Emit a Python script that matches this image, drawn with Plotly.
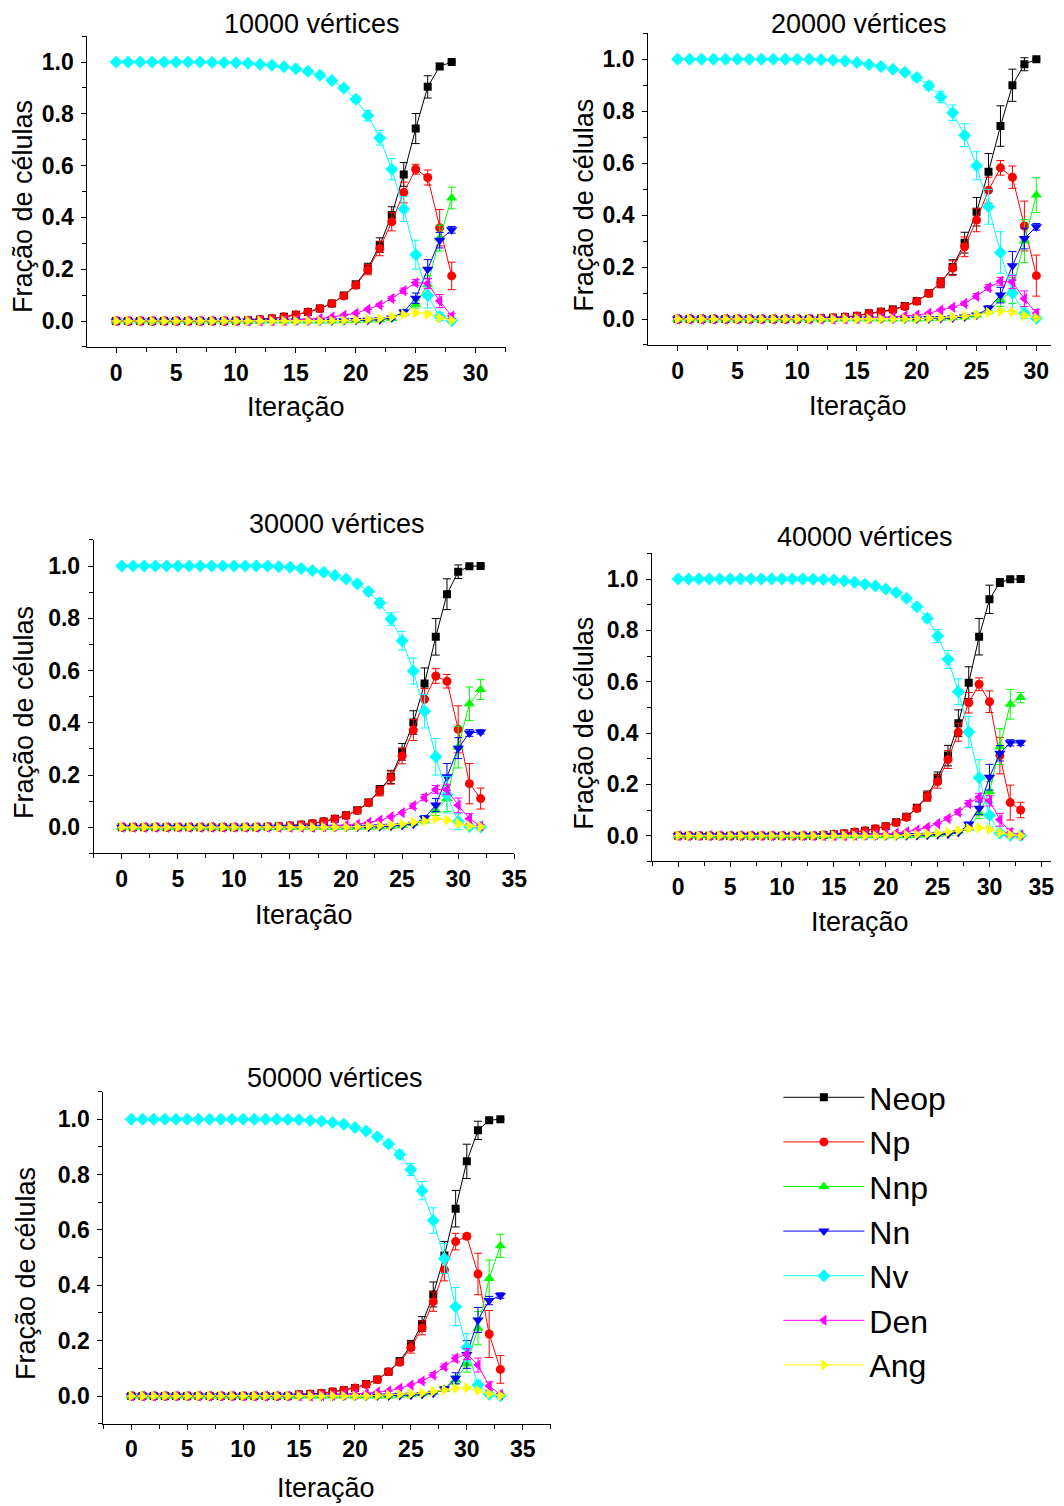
import plotly.graph_objects as go

# ---------------- data ----------------
SERIES = ["Neop", "Np", "Nnp", "Nn", "Nv", "Den", "Ang"]
TITLES = ["10000 vértices", "20000 vértices", "30000 vértices", "40000 vértices", "50000 vértices"]
X_TITLE = "Iteração"
Y_TITLE = "Fração de células"

# 10000 vertices (iterations 0..28)
it1 = list(range(29))
neop1 = [0]*10 + [0.001,0.003,0.006,0.010,0.016,0.024,0.035,0.048,0.068,0.098,0.141,0.203,0.293,0.409,0.566,0.743,0.904,0.983,1.0]
np1 = [0]*10 + [0.001,0.003,0.006,0.010,0.016,0.024,0.035,0.048,0.068,0.097,0.138,0.198,0.280,0.383,0.496,0.586,0.554,0.360,0.174]
nnp1 = [0]*19 + [0.001,0.002,0.003,0.005,0.010,0.030,0.065,0.140,0.320,0.475]
nn1 = [0]*19 + [0.001,0.002,0.003,0.005,0.012,0.035,0.088,0.200,0.312,0.352]
nv1 = [1,1,1,1,1,1,1,1,0.999,0.998,0.997,0.995,0.991,0.987,0.982,0.974,0.964,0.949,0.929,0.900,0.856,0.793,0.707,0.586,0.432,0.256,0.098,0.017,0.002]
den1 = [0]*14 + [0.002,0.004,0.006,0.010,0.015,0.022,0.030,0.045,0.062,0.087,0.117,0.148,0.145,0.077,0.019]
ang1 = [0]*18 + [0.001,0.002,0.004,0.006,0.010,0.016,0.025,0.032,0.027,0.012,0.003]
e_neop1 = [0]*19 + [0.010,0.013,0.020,0.028,0.032,0.046,0.058,0.043,0.012,0.003]
e_np1 = [0]*19 + [0.008,0.012,0.020,0.028,0.035,0.040,0.019,0.029,0.070,0.053]
e_nnp1 = [0]*23 + [0.004,0.010,0.015,0.035,0.050,0.042]
e_nn1 = [0]*23 + [0.004,0.008,0.020,0.037,0.030,0.013]
e_nv1 = [0]*18 + [0.005,0.008,0.012,0.020,0.028,0.041,0.048,0.056,0.048,0.015,0.003]
e_den1 = [0]*22 + [0.005,0.008,0.010,0.012,0.020,0.025,0.010]
e_ang1 = [0]*23 + [0.003,0.005,0.006,0.006,0.005,0.002]

# 20000 vertices (iterations 0..30)
it2 = list(range(31))
neop2 = [0]*11 + [0.001,0.003,0.005,0.008,0.012,0.022,0.028,0.037,0.050,0.069,0.099,0.140,0.200,0.294,0.413,0.567,0.743,0.900,0.981,1.0]
np2 = [0]*11 + [0.001,0.003,0.005,0.008,0.012,0.021,0.027,0.035,0.048,0.068,0.098,0.140,0.196,0.278,0.381,0.496,0.582,0.546,0.358,0.167]
nnp2 = [0]*21 + [0.002,0.003,0.005,0.008,0.015,0.030,0.073,0.110,0.300,0.477]
nn2 = [0]*21 + [0.001,0.002,0.004,0.008,0.015,0.041,0.092,0.205,0.310,0.355]
nv2 = [1]*12 + [0.998,0.996,0.993,0.988,0.980,0.972,0.962,0.950,0.930,0.898,0.855,0.794,0.708,0.590,0.432,0.256,0.100,0.022,0.003]
den2 = [0]*15 + [0.002,0.003,0.005,0.008,0.012,0.015,0.022,0.035,0.045,0.060,0.088,0.121,0.145,0.142,0.078,0.022]
ang2 = [0]*20 + [0.002,0.003,0.005,0.007,0.011,0.016,0.025,0.030,0.027,0.013,0.004]
e_neop2 = [0]*20 + [0.008,0.012,0.018,0.028,0.040,0.055,0.070,0.078,0.062,0.025,0.003]
e_np2 = [0]*21 + [0.010,0.020,0.028,0.038,0.045,0.050,0.028,0.043,0.096,0.079]
e_nnp2 = [0]*26 + [0.010,0.025,0.050,0.083,0.067]
e_nn2 = [0]*26 + [0.010,0.030,0.055,0.040,0.013]
e_nv2 = [0]*19 + [0.008,0.012,0.016,0.022,0.030,0.044,0.054,0.067,0.080,0.070,0.020,0.003]
e_den2 = [0]*24 + [0.008,0.010,0.012,0.015,0.025,0.030,0.015]
e_ang2 = [0]*25 + [0.003,0.005,0.006,0.006,0.005,0.002]

# 30000 vertices (iterations 0..32)
it3 = list(range(33))
neop3 = [0]*13 + [0.002,0.004,0.006,0.010,0.015,0.022,0.033,0.046,0.065,0.095,0.142,0.193,0.289,0.401,0.550,0.729,0.892,0.978,0.999,1.0]
np3 = [0]*13 + [0.002,0.004,0.006,0.010,0.015,0.022,0.032,0.045,0.064,0.094,0.138,0.190,0.273,0.372,0.490,0.579,0.559,0.375,0.167,0.110]
nnp3 = [0]*23 + [0.002,0.004,0.007,0.015,0.025,0.065,0.110,0.307,0.473,0.527]
nn3 = [0]*23 + [0.002,0.004,0.007,0.012,0.035,0.085,0.193,0.303,0.361,0.365]
nv3 = [1]*14 + [0.997,0.995,0.990,0.983,0.976,0.964,0.950,0.932,0.902,0.858,0.797,0.714,0.598,0.444,0.270,0.125,0.022,0.003,0.001]
den3 = [0]*18 + [0.003,0.005,0.008,0.012,0.018,0.027,0.040,0.056,0.082,0.114,0.145,0.145,0.084,0.033,0.005]
ang3 = [0]*21 + [0.002,0.004,0.006,0.009,0.013,0.018,0.024,0.033,0.027,0.015,0.005,0.002]
e_neop3 = [0]*21 + [0.010,0.012,0.018,0.025,0.032,0.045,0.060,0.070,0.059,0.026,0.003,0.002]
e_np3 = [0]*23 + [0.018,0.025,0.030,0.040,0.041,0.028,0.026,0.090,0.077,0.040]
e_nnp3 = [0]*27 + [0.008,0.020,0.050,0.080,0.064,0.038]
e_nn3 = [0]*27 + [0.010,0.025,0.051,0.040,0.013,0.008]
e_nv3 = [0]*21 + [0.010,0.013,0.018,0.024,0.036,0.050,0.064,0.070,0.070,0.030,0.005,0.002]
e_den3 = [0]*26 + [0.010,0.012,0.015,0.020,0.028,0.020,0.006]
e_ang3 = [0]*27 + [0.004,0.005,0.005,0.005,0.003,0.001]

# 40000 vertices (iterations 0..33)
it4 = list(range(34))
neop4 = [0]*14 + [0.003,0.006,0.009,0.014,0.019,0.027,0.037,0.052,0.074,0.109,0.156,0.226,0.312,0.438,0.596,0.775,0.921,0.986,0.999,1.0]
np4 = [0]*14 + [0.003,0.006,0.009,0.014,0.019,0.027,0.036,0.051,0.072,0.106,0.152,0.210,0.297,0.403,0.518,0.590,0.522,0.312,0.129,0.100]
nnp4 = [0]*23 + [0.002,0.004,0.006,0.010,0.018,0.030,0.087,0.171,0.347,0.512,0.538]
nn4 = [0]*23 + [0.001,0.002,0.004,0.006,0.012,0.045,0.107,0.228,0.321,0.362,0.362]
nv4 = [1]*13 + [0.999,0.998,0.996,0.993,0.987,0.980,0.973,0.961,0.947,0.925,0.892,0.847,0.778,0.687,0.561,0.404,0.226,0.080,0.011,0.002,0.001]
den4 = [0]*17 + [0.002,0.004,0.005,0.007,0.010,0.015,0.022,0.033,0.047,0.067,0.092,0.125,0.150,0.136,0.062,0.012,0.003]
ang4 = [0]*22 + [0.003,0.005,0.007,0.010,0.014,0.020,0.028,0.031,0.025,0.012,0.004,0.001]
e_neop4 = [0]*22 + [0.008,0.012,0.018,0.022,0.040,0.052,0.062,0.071,0.055,0.015,0.003,0.002]
e_np4 = [0]*24 + [0.018,0.025,0.035,0.035,0.040,0.025,0.042,0.071,0.068,0.030]
e_nnp4 = [0]*28 + [0.008,0.020,0.040,0.070,0.058,0.020]
e_nn4 = [0]*28 + [0.008,0.025,0.050,0.030,0.012,0.010]
e_nv4 = [0]*22 + [0.008,0.012,0.016,0.025,0.035,0.050,0.060,0.070,0.045,0.010,0.003,0.001]
e_den4 = [0]*26 + [0.006,0.010,0.012,0.015,0.020,0.025,0.015,0.005]
e_ang4 = [0]*27 + [0.003,0.004,0.005,0.005,0.004,0.002,0.001]

# 50000 vertices (iterations 0..33)
it5 = list(range(34))
neop5 = [0]*15 + [0.005,0.007,0.010,0.015,0.021,0.029,0.043,0.060,0.088,0.126,0.183,0.260,0.367,0.508,0.677,0.848,0.960,0.997,1.0]
np5 = [0]*15 + [0.005,0.007,0.010,0.015,0.021,0.029,0.042,0.059,0.088,0.122,0.175,0.246,0.341,0.456,0.558,0.577,0.441,0.224,0.096]
nnp5 = [0]*24 + [0.003,0.005,0.008,0.014,0.024,0.058,0.116,0.245,0.425,0.543]
nn5 = [0]*24 + [0.002,0.003,0.005,0.010,0.025,0.064,0.150,0.275,0.345,0.363]
nv5 = [1]*14 + [0.999,0.998,0.996,0.993,0.988,0.982,0.970,0.958,0.937,0.911,0.873,0.819,0.742,0.634,0.497,0.323,0.175,0.040,0.006,0.001]
den5 = [0]*17 + [0.002,0.003,0.005,0.007,0.010,0.014,0.018,0.028,0.040,0.054,0.076,0.106,0.136,0.152,0.112,0.036,0.005]
ang5 = [0]*22 + [0.002,0.004,0.006,0.008,0.011,0.016,0.022,0.028,0.030,0.020,0.008,0.002]
e_neop5 = [0]*23 + [0.008,0.012,0.018,0.027,0.045,0.050,0.066,0.062,0.033,0.004,0.002]
e_np5 = [0]*24 + [0.010,0.020,0.025,0.035,0.040,0.030,0.010,0.075,0.085,0.050]
e_nnp5 = [0]*28 + [0.008,0.015,0.030,0.060,0.066,0.042]
e_nn5 = [0]*28 + [0.008,0.020,0.050,0.045,0.015,0.010]
e_nv5 = [0]*22 + [0.006,0.010,0.015,0.022,0.033,0.046,0.054,0.069,0.050,0.015,0.005,0.001]
e_den5 = [0]*26 + [0.006,0.008,0.010,0.012,0.020,0.025,0.015,0.005]
e_ang5 = [0]*27 + [0.003,0.004,0.005,0.005,0.004,0.002,0.001]

PANELS = [
    (it1, [neop1, np1, nnp1, nn1, nv1, den1, ang1], [e_neop1, e_np1, e_nnp1, e_nn1, e_nv1, e_den1, e_ang1]),
    (it2, [neop2, np2, nnp2, nn2, nv2, den2, ang2], [e_neop2, e_np2, e_nnp2, e_nn2, e_nv2, e_den2, e_ang2]),
    (it3, [neop3, np3, nnp3, nn3, nv3, den3, ang3], [e_neop3, e_np3, e_nnp3, e_nn3, e_nv3, e_den3, e_ang3]),
    (it4, [neop4, np4, nnp4, nn4, nv4, den4, ang4], [e_neop4, e_np4, e_nnp4, e_nn4, e_nv4, e_den4, e_ang4]),
    (it5, [neop5, np5, nnp5, nn5, nv5, den5, ang5], [e_neop5, e_np5, e_nnp5, e_nn5, e_nv5, e_den5, e_ang5]),
]

# ---------------- style / layout ----------------
W, H = 1064, 1506
KX = 1.0137                  # horizontal compensation observed in the rendered capture
FONT = "Liberation Sans, Arial, sans-serif"
COLORS = ["#000000", "#FF0000", "#00FF00", "#0000FF", "#00FFFF", "#FF00FF", "#FFFF00"]
SYMBOLS = ["square", "circle", "triangle-up", "triangle-down", "diamond", "triangle-left", "triangle-right"]
SIZES = [8, 9, 10, 10, 10, 10, 10]


def px(sx):
    return min(1.0, sx * KX / W)


def py(sy):
    return 1 - sy / H


# geometry per panel in target pixels: x0px, px per unit, xmin, xmax, y0px, px per unit (y)
GEOM = [
    (116.0, 11.967, -2.4, 32.5, 321.0, 259.0),
    (676.7, 11.943, -2.46, 32.43, 319.0, 259.7),
    (121.6, 11.2, -2.5, 35.0, 827.3, 261.3),
    (677.3, 10.363, -2.5, 37.32, 835.7, 256.7),
    (131.1, 11.17, -2.5, 37.5, 1396.0, 276.7),
]
YMIN, YMAX = -0.1, 1.1
TITLE_POS = [(312, 24), (858, 24), (337, 524), (864, 537), (335, 1078)]
XT_POS = [(296, 407), (857, 406), (304, 915), (859, 922), (326, 1488)]
YT_POS = [(23, 207), (583, 205), (24, 713), (583, 723), (26, 1274)]

fig = go.Figure()
annotations = []
for p, (its, vals, errs) in enumerate(PANELS):
    k = "" if p == 0 else str(p + 1)
    for s in range(len(SERIES)):
        fig.add_trace(go.Scatter(
            x=its, y=vals[s], mode="lines+markers", name=SERIES[s],
            legendgroup=SERIES[s], showlegend=(p == 0),
            xaxis="x" + k, yaxis="y" + k,
            line=dict(color=COLORS[s], width=1),
            marker=dict(symbol=SYMBOLS[s], size=SIZES[s], color=COLORS[s], line=dict(width=0)),
            error_y=dict(type="data", array=errs[s], symmetric=True, color=COLORS[s], thickness=1, width=4),
        ))
    x0, pxu, xmin, xmax, y0, pyu = GEOM[p]
    left = x0 + xmin * pxu
    right = x0 + xmax * pxu
    if right * KX > W:
        right = W / KX
        xmax = (right - x0) / pxu
    top = y0 - YMAX * pyu
    bottom = y0 - YMIN * pyu
    tickfont = dict(family=FONT, size=23, color="black", weight="bold")
    fig.layout["xaxis" + k] = dict(
        domain=[px(left), px(right)], range=[xmin, xmax], anchor="y" + k,
        tick0=0, dtick=5, ticks="outside", ticklen=5, tickwidth=1, tickcolor="black",
        minor=dict(tick0=0, dtick=2.5, ticks="outside", ticklen=4, tickwidth=1, tickcolor="black"),
        showline=True, linecolor="black", linewidth=1, showgrid=False, zeroline=False,
        tickfont=tickfont, tickformat="d",
    )
    fig.layout["yaxis" + k] = dict(
        domain=[py(bottom), py(top)], range=[YMIN, YMAX], anchor="x" + k,
        tick0=0, dtick=0.2, ticks="outside", ticklen=5, tickwidth=1, tickcolor="black",
        minor=dict(tick0=0, dtick=0.1, ticks="outside", ticklen=4, tickwidth=1, tickcolor="black"),
        showline=True, linecolor="black", linewidth=1, showgrid=False, zeroline=False,
        tickfont=tickfont, tickformat=".1f", ticklabelstandoff=3,
    )
    tx, ty = TITLE_POS[p]
    annotations.append(dict(text=TITLES[p], x=px(tx), y=py(ty), xref="paper", yref="paper",
                            xanchor="center", yanchor="middle", showarrow=False,
                            font=dict(family=FONT, size=27, color="black")))
    ax_, ay_ = XT_POS[p]
    annotations.append(dict(text=X_TITLE, x=px(ax_), y=py(ay_), xref="paper", yref="paper",
                            xanchor="center", yanchor="middle", showarrow=False,
                            font=dict(family=FONT, size=27, color="black")))
    bx, by = YT_POS[p]
    annotations.append(dict(text=Y_TITLE, x=px(bx), y=py(by), xref="paper", yref="paper",
                            xanchor="center", yanchor="middle", showarrow=False, textangle=-90,
                            font=dict(family=FONT, size=27, color="black")))

fig.update_layout(
    width=W, height=H, autosize=False,
    margin=dict(l=0, r=0, t=0, b=0, pad=0),
    paper_bgcolor="white", plot_bgcolor="white",
    annotations=annotations,
    showlegend=True,
    legend=dict(x=788 / W, y=py(1070), xanchor="left", yanchor="top",
                font=dict(family=FONT, size=32, color="black"),
                bgcolor="rgba(0,0,0,0)", borderwidth=0, itemwidth=81,
                tracegroupgap=0),
)

fig.write_html(
    "out.html",
    config={"displayModeBar": False},
    post_script=("document.documentElement.style.margin='0px';"
                 "document.body.style.margin='0px';"
                 "document.documentElement.style.overflow='hidden';"
                 "document.body.style.overflow='hidden';"),
)
